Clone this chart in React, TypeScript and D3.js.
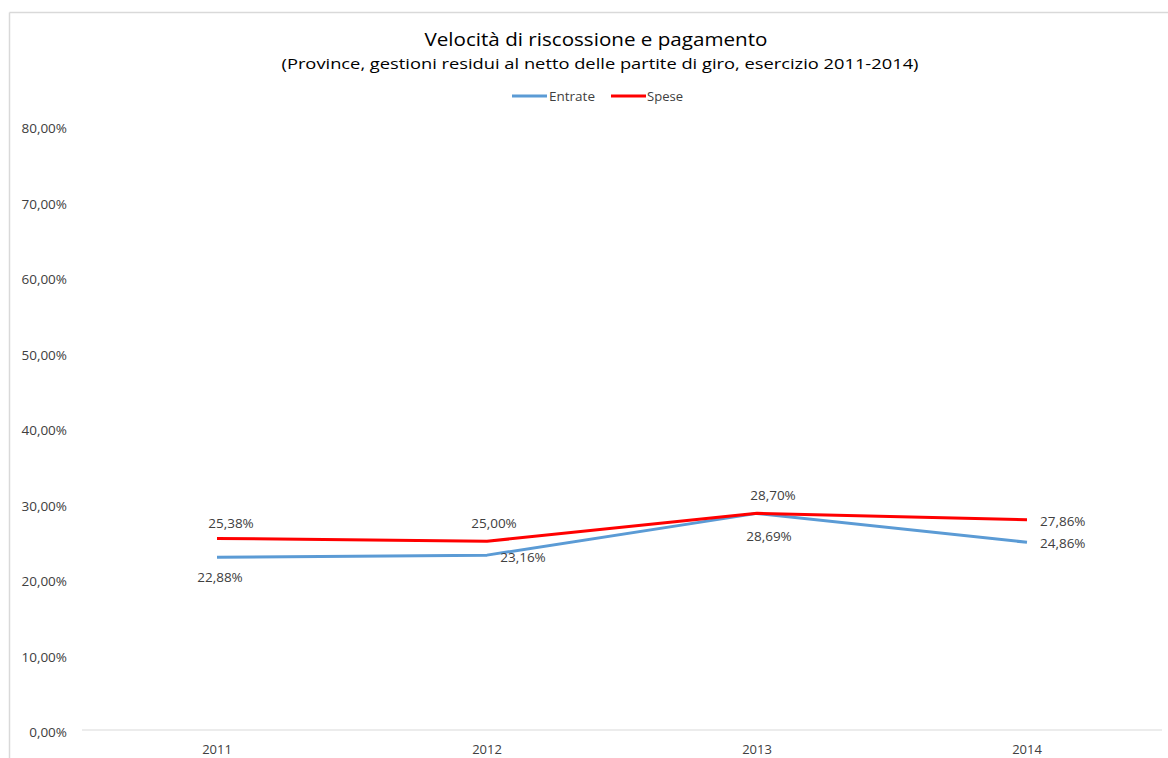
import React, { useEffect } from "react";
import * as d3 from "d3";

const categories = ["2011", "2012", "2013", "2014"];
const entrate = [22.88, 23.16, 28.69, 24.86];
const spese = [25.38, 25.0, 28.7, 27.86];
const yTicks = [0, 10, 20, 30, 40, 50, 60, 70, 80];
const title = "Velocità di riscossione e pagamento";
const subtitle = "(Province, gestioni residui al netto delle partite di giro, esercizio 2011-2014)";

// label offsets relative to points (layout only)
const entrateLabelOffsets = [
  { dx: 3, dy: 20, anchor: "middle" },
  { dx: 36, dy: 2, anchor: "middle" },
  { dx: 12, dy: 23, anchor: "middle" },
  { dx: 13, dy: 1, anchor: "start" },
];
const speseLabelOffsets = [
  { dx: 14, dy: -15, anchor: "middle" },
  { dx: 7, dy: -18, anchor: "middle" },
  { dx: 16, dy: -18, anchor: "middle" },
  { dx: 13, dy: 1, anchor: "start" },
];

const W = 1168;
const H = 758;
const FONT = "'Open Sans', Lato, 'DejaVu Sans', sans-serif";

const fmt = (v: number) => v.toFixed(2).replace(".", ",") + "%";

export default function App() {
  useEffect(() => {
    document.body.style.margin = "0";
    document.body.style.overflow = "hidden";
  }, []);

  const x = d3.scaleBand<string>().domain(categories).range([82, 1162]);
  const y = d3.scaleLinear().domain([0, 80]).range([730, 126]);
  const cx = (c: string) => (x(c) as number) + x.bandwidth() / 2;
  const line = d3
    .line<number>()
    .x((_, i) => cx(categories[i]))
    .y((d) => y(d));

  const series = [
    { name: "Entrate", values: entrate, color: "#5b9bd5", offsets: entrateLabelOffsets },
    { name: "Spese", values: spese, color: "#ff0000", offsets: speseLabelOffsets },
  ];

  return (
    <svg
      width={W}
      height={H}
      style={{ position: "fixed", left: 0, top: 0, background: "#fff", display: "block" }}
      fontFamily={FONT}
    >
      <rect x={0} y={0} width={W} height={H} fill="#fff" />
      {/* chart border */}
      <line x1={9.5} y1={12.5} x2={W} y2={12.5} stroke="#d9d9d9" strokeWidth={1.5} />
      <line x1={9.5} y1={12.5} x2={9.5} y2={H} stroke="#d9d9d9" strokeWidth={1.5} />

      <text
        x={596}
        y={39}
        textAnchor="middle"
        dominantBaseline="central"
        fontSize={18}
        fontWeight={400}
        fill="#000"
        textLength={343}
        lengthAdjust="spacingAndGlyphs"
      >
        {title}
      </text>
      <text
        x={600}
        y={63}
        textAnchor="middle"
        dominantBaseline="central"
        fontSize={15}
        fontWeight={400}
        fill="#000"
        textLength={637}
        lengthAdjust="spacingAndGlyphs"
      >
        {subtitle}
      </text>

      {/* legend */}
      <g fontSize={12} fill="#404040">
        <line x1={512} x2={547} y1={96} y2={96} stroke="#5b9bd5" strokeWidth={3} />
        <text x={549} y={96} dominantBaseline="central" textLength={46} lengthAdjust="spacingAndGlyphs">Entrate</text>
        <line x1={611} x2={646} y1={96} y2={96} stroke="#ff0000" strokeWidth={3} />
        <text x={647} y={96} dominantBaseline="central" textLength={36} lengthAdjust="spacingAndGlyphs">Spese</text>
      </g>

      {/* y axis labels */}
      <g fontSize={13.5} fill="#404040">
        {yTicks.map((t) => (
          <text key={t} x={67} y={y(t) + 2} textAnchor="end" dominantBaseline="central">
            {fmt(t)}
          </text>
        ))}
      </g>

      {/* baseline */}
      <line x1={82} x2={1162} y1={y(0)} y2={y(0)} stroke="#d9d9d9" strokeWidth={1} />

      {/* x labels */}
      <g fontSize={13} fill="#404040">
        {categories.map((c) => (
          <text key={c} x={cx(c)} y={749} textAnchor="middle" dominantBaseline="central">
            {c}
          </text>
        ))}
      </g>

      {series.map((s) => (
        <g key={s.name}>
          <path d={line(s.values) as string} fill="none" stroke={s.color} strokeWidth={3} strokeLinejoin="round" />
          {s.values.map((v, i) => (
            <text
              key={i}
              x={cx(categories[i]) + s.offsets[i].dx}
              y={y(v) + s.offsets[i].dy}
              textAnchor={s.offsets[i].anchor as any}
              dominantBaseline="central"
              fontSize={13.5}
              fill="#404040"
            >
              {fmt(v)}
            </text>
          ))}
        </g>
      ))}
    </svg>
  );
}
